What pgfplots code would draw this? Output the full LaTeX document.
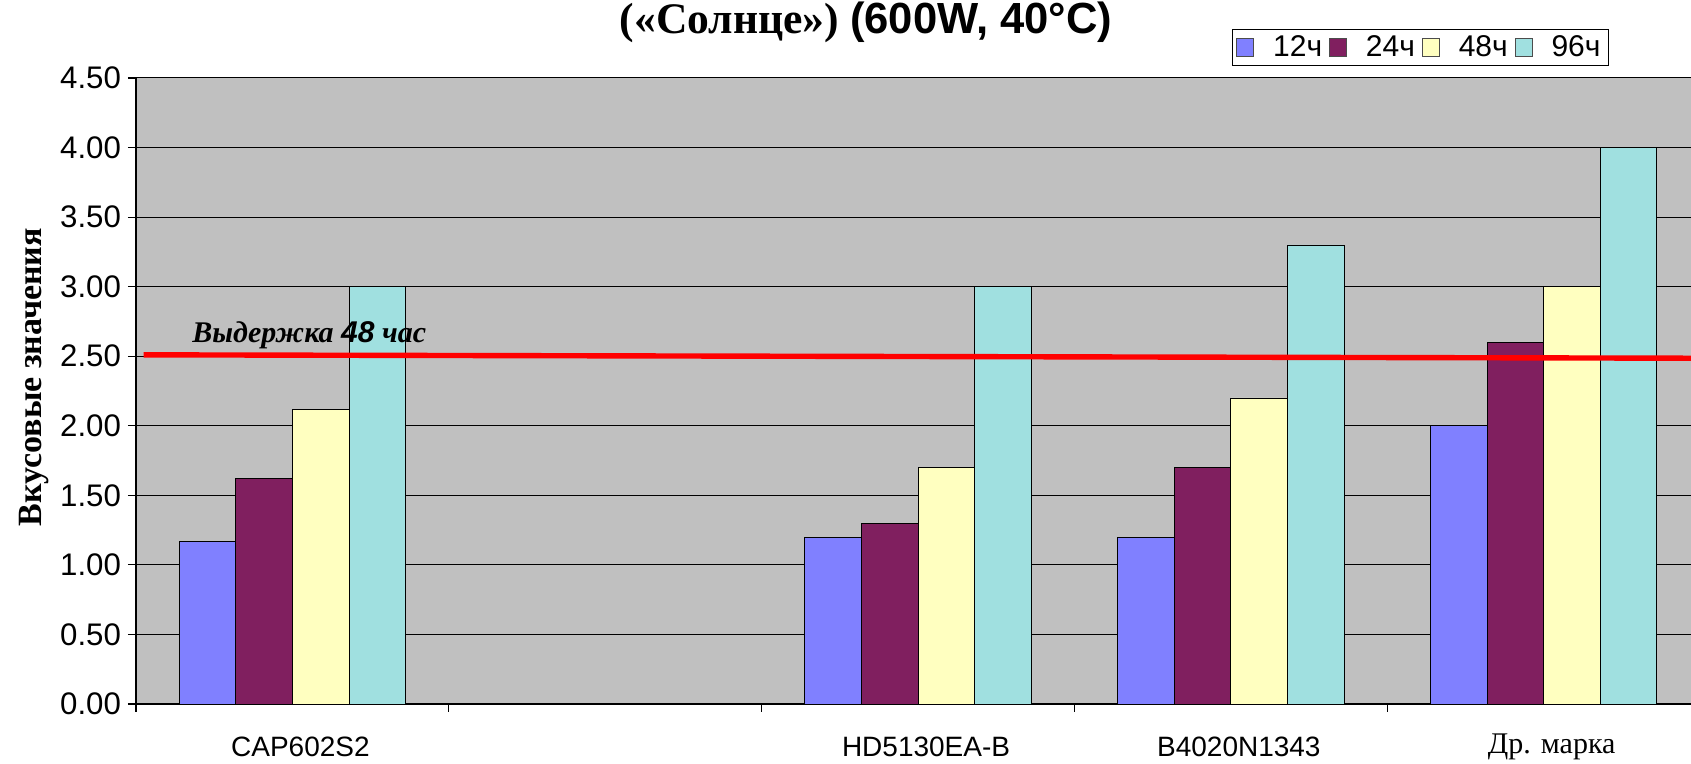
\documentclass[border=0pt]{standalone}
\usepackage{pgfplots}
\pgfplotsset{compat=1.18}
\usepackage{fontspec}
\setmainfont{Liberation Serif}
\newfontfamily\arial{Liberation Sans}

\definecolor{bgray}{HTML}{C0C0C0}
\definecolor{c12}{HTML}{8080FF}
\definecolor{c24}{HTML}{801F5F}
\definecolor{c48}{HTML}{FFFFC0}
\definecolor{c96}{HTML}{A0E0E0}

\pgfplotsset{
  barleg/.style={legend image code/.code={%
    \draw[##1, draw=gray!60!black, line width=0.4pt] (0pt,-4.5pt) rectangle (8.5pt,4.5pt);}},
  bars/.style={ybar, bar width=28.3pt, draw=black, line width=0.4pt, barleg},
}

\begin{document}
\begin{tikzpicture}
\useasboundingbox (0,0) rectangle (845.5pt,382pt);
\clip (0,0) rectangle (845.5pt,382pt);
\begin{axis}[
  at={(68pt,30pt)}, anchor=south west,
  scale only axis, width=777.5pt, height=313pt,
  xmin=-0.5, xmax=4.471, ymin=0, ymax=4.5,
  axis background/.style={fill=bgray},
  axis lines*=left, axis line style={-, black, line width=0.6pt},
  tick align=outside, major tick length=4pt,
  tick style={black, line width=0.6pt},
  ytick={0,0.5,...,4.5},
  ymajorgrids, grid style={black, line width=0.5pt},
  xtick={-0.5,0.5,1.5,2.5,3.5}, xticklabels={},
  extra x ticks={0,2,3,4},
  extra x tick labels={CAP602S2,HD5130EA-B,B4020N1343,{\rmfamily\fontsize{15}{15}\selectfont Др. марка}},
  extra x tick style={major tick length=0pt, xmajorgrids=false,
    tick label style={anchor=center, yshift=-21.5pt, xshift=4pt}},
  /pgf/number format/assume math mode=true,
  yticklabel style={/pgf/number format/.cd, fixed, fixed zerofill, precision=2,
    /tikz/.cd, font=\arial\fontsize{15.6}{15.6}\selectfont},
  xticklabel style={font=\arial\fontsize{14}{14}\selectfont},
  ylabel={Вкусовые значения},
  ylabel style={font=\bfseries\fontsize{17}{17}\selectfont,
    at={(axis description cs:-0.0655,0.522)}, anchor=center},
  legend columns=4,
  legend style={at={(axis description cs:0.9473,1.0783)}, anchor=north east,
    draw=black, line width=0.5pt, fill=white, inner xsep=2pt, inner ysep=1pt,
    font=\arial\fontsize{15}{15}\selectfont,
    /tikz/every odd column/.append style={column sep=7.5pt},
    /tikz/every even column/.append style={column sep=1.5pt}},
]
% 12ч
\addplot[bars, bar shift=-42.45pt, fill=c12] coordinates {(0,1.17) (2,1.20) (3,1.20) (4,2.00)};
% 24ч
\addplot[bars, bar shift=-14.15pt, fill=c24] coordinates {(0,1.62) (2,1.30) (3,1.70) (4,2.60)};
% 48ч
\addplot[bars, bar shift=14.15pt, fill=c48] coordinates {(0,2.12) (2,1.70) (3,2.20) (4,3.00)};
% 96ч
\addplot[bars, bar shift=42.45pt, fill=c96] coordinates {(0,3.00) (2,3.00) (3,3.30) (4,4.00)};
\legend{12ч,24ч,48ч,96ч}
% линия выдержки
\addplot[red, line width=2.7pt, forget plot] coordinates {(-0.476,2.51) (4.6,2.485)};
\node[anchor=west, inner sep=0pt, font=\bfseries\itshape\fontsize{15}{15}\selectfont]
  at (axis cs:-0.321,2.65) {Выдержка {\arial 48} час};
\end{axis}
\node[anchor=base, inner sep=0pt, font=\bfseries\fontsize{21.8}{21.8}\selectfont]
  at (433pt,365pt) {(«Солнце») {\arial(600W, 40°C)}};
\end{tikzpicture}
\end{document}
